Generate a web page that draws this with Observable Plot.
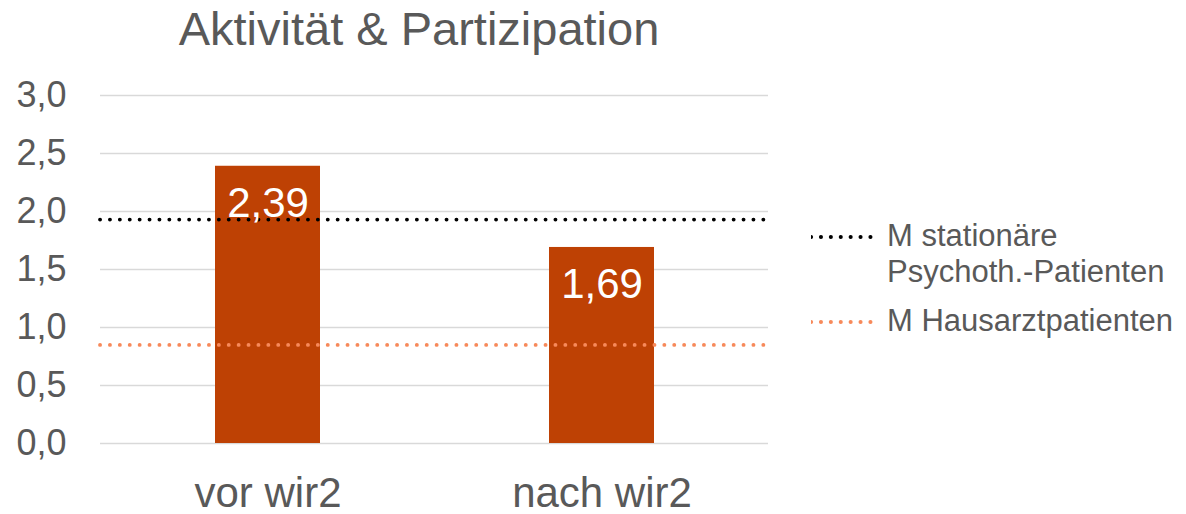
<!DOCTYPE html>
<html>
<head>
<meta charset="utf-8">
<script src="https://cdn.jsdelivr.net/npm/d3@7"></script>
<script src="https://cdn.jsdelivr.net/npm/@observablehq/plot@0.6"></script>
<style>
  html, body { margin: 0; padding: 0; background: #fff; }
  #wrap { position: relative; width: 1186px; height: 514px; font-family: "Liberation Sans", Arial, sans-serif; color: #595959; }
  #title { position: absolute; left: 0; top: 5px; width: 838px; text-align: center; font-size: 47px; line-height: 47px; white-space: nowrap; }
  .leg { position: absolute; left: 811px; display: flex; align-items: flex-start; }
  .leg svg { display: block; }
  .leg .txt { position: absolute; left: 76px; font-size: 31px; line-height: 36px; white-space: nowrap; }
  #chart { position: absolute; left: 0; top: 0; }
</style>
</head>
<body>
<div id="wrap">
  <div id="chart"></div>
  <div id="title"></div>
  <div id="legend"></div>
</div>
<script>
const titleText = "Aktivität & Partizipation";
const categories = ["vor wir2", "nach wir2"];
const values = [2.39, 1.69];
const refValues = [1.93, 0.85];
const refLabels = [["M stationäre", "Psychoth.-Patienten"], ["M Hausarztpatienten"]];
const refColors = ["#000000", "#F7895A"];
const yTicks = [0, 0.5, 1, 1.5, 2, 2.5, 3];

const fmt1 = d => d.toFixed(1).replace(".", ",");
const fmt2 = d => d.toFixed(2).replace(".", ",");

const data = categories.map((c, i) => ({cat: c, value: values[i]}));

document.getElementById("title").textContent = titleText;

const chart = Plot.plot({
  width: 1186,
  height: 514,
  marginLeft: 100,
  marginRight: 418,
  marginTop: 95,
  marginBottom: 71,
  style: {fontFamily: "'Liberation Sans', Arial, sans-serif", color: "#595959", background: "transparent", overflow: "visible"},
  x: {domain: categories, paddingInner: 0.686, paddingOuter: 0.343, label: null},
  y: {domain: [0, 3], label: null},
  marks: [
    Plot.ruleY(yTicks, {stroke: "#d9d9d9", strokeWidth: 1.5}),
    Plot.barY(data, {x: "cat", y: "value", fill: "#BE4104"}),
    Plot.ruleY([refValues[0]], {stroke: refColors[0], strokeWidth: 3.8, strokeDasharray: "0.1 9.8", strokeLinecap: "round"}),
    Plot.ruleY([refValues[1]], {stroke: refColors[1], strokeWidth: 3.8, strokeDasharray: "0.1 9.8", strokeLinecap: "round"}),
    Plot.text(data, {x: "cat", y: "value", text: d => fmt2(d.value), fill: "white", fontSize: 42, lineAnchor: "top", dy: 21}),
    Plot.axisY({ticks: yTicks, tickSize: 0, tickPadding: 34, fontSize: 36, tickFormat: fmt1, label: null}),
    Plot.axisX({tickSize: 0, tickPadding: 34, fontSize: 42, label: null})
  ]
});
document.getElementById("chart").appendChild(chart);

// legend
const legend = document.getElementById("legend");
const legTops = [237, 322];
refLabels.forEach((lines, i) => {
  const item = document.createElement("div");
  item.className = "leg";
  item.style.top = (legTops[i] - 5) + "px";
  const ns = "http://www.w3.org/2000/svg";
  const svg = document.createElementNS(ns, "svg");
  svg.setAttribute("width", 64);
  svg.setAttribute("height", 10);
  const line = document.createElementNS(ns, "line");
  line.setAttribute("x1", 0); line.setAttribute("x2", 62);
  line.setAttribute("y1", 5); line.setAttribute("y2", 5);
  line.setAttribute("stroke", refColors[i]);
  line.setAttribute("stroke-width", 4);
  line.setAttribute("stroke-dasharray", "0.1 9.8");
  line.setAttribute("stroke-linecap", "round");
  svg.appendChild(line);
  item.appendChild(svg);
  const txt = document.createElement("div");
  txt.className = "txt";
  txt.style.top = "-14px";
  lines.forEach(l => { const d = document.createElement("div"); d.textContent = l; txt.appendChild(d); });
  item.appendChild(txt);
  legend.appendChild(item);
});
</script>
</body>
</html>
